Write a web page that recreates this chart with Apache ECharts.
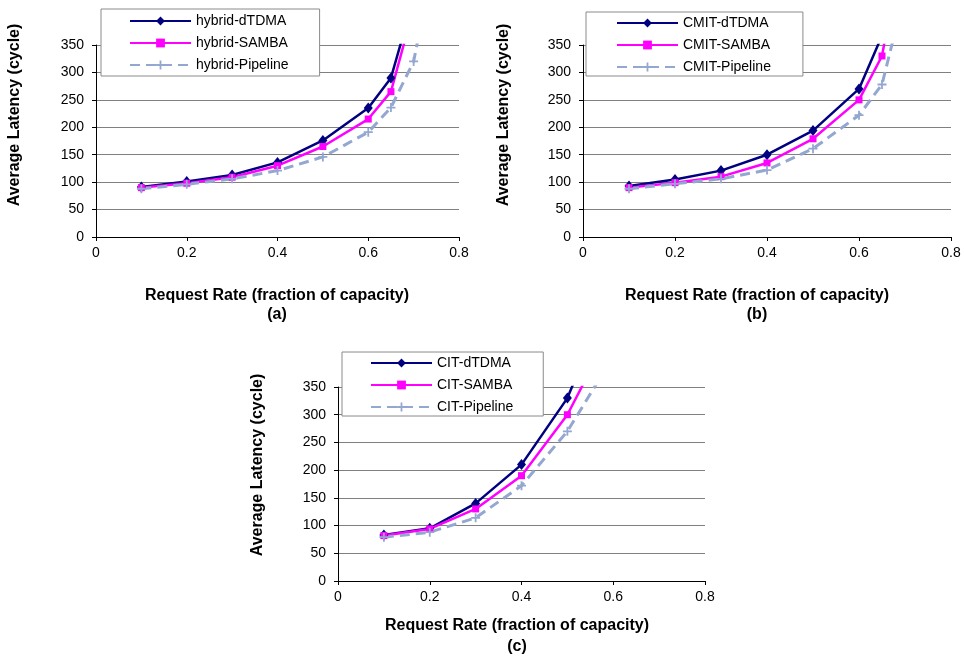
<!DOCTYPE html>
<html>
<head>
<meta charset="utf-8">
<script src="https://cdn.jsdelivr.net/npm/echarts@6/dist/echarts.min.js"></script>
<style>
  html, body { margin: 0; padding: 0; background: #ffffff; }
  #chart { width: 964px; height: 657px; }
</style>
</head>
<body>
<div id="chart"></div>
<script>
// ---- Data: average latency (cycles) vs. request rate (fraction of capacity) ----
const hybridRate         = [0.1, 0.2, 0.3, 0.4, 0.5, 0.6, 0.65, 0.7];
const hybridPipelineRate = [0.1, 0.2, 0.3, 0.4, 0.5, 0.6, 0.65, 0.7, 0.75];
const hybridDTDMA        = [91, 101, 113, 136, 176, 235, 290, 435];
const hybridSAMBA        = [90, 98, 109, 130, 165, 215, 265, 417];
const hybridPipeline     = [88, 96, 106, 121, 146, 191, 236, 320, 530];

const cmitDTDMARate      = [0.1, 0.2, 0.3, 0.4, 0.5, 0.6, 0.65];
const cmitRate           = [0.1, 0.2, 0.3, 0.4, 0.5, 0.6, 0.65, 0.7];
const cmitDTDMA          = [93, 105, 121, 150, 194, 270, 367];
const cmitSAMBA          = [90, 99, 110, 135, 179, 250, 330, 560];
const cmitPipeline       = [88, 97, 106, 122, 161, 222, 278, 447];

const citRate            = [0.1, 0.2, 0.3, 0.4, 0.5, 0.55];
const citPipelineRate    = [0.1, 0.2, 0.3, 0.4, 0.5, 0.6];
const citDTDMA           = [83, 95, 140, 210, 330, 430];
const citSAMBA           = [82, 94, 130, 190, 300, 380];
const citPipeline        = [79, 88, 114, 172, 270, 405];

// Axis ranges and ticks
const xMin = 0, xMax = 0.8, xStep = 0.2;
const yMin = 0, yMax = 350, yStep = 50;

const xTitle = 'Request Rate (fraction of capacity)';
const yTitle = 'Average Latency (cycle)';
const panelLabels = ['(a)', '(b)', '(c)'];

// ---- Styling ----
const FONT = '"Liberation Sans", Arial, Helvetica, sans-serif';
const NAVY = '#000080', MAGENTA = '#ff00ff', STEEL = '#93a7d0';
const PLUS = 'path://M4,0H6V4H10V6H6V10H4V6H0V4H4Z';

function pairs(xs, ys) { return xs.map((x, i) => [x, ys[i]]); }

const styles = {
  dTDMA:    { color: NAVY,    symbol: 'diamond', symbolSize: [9, 11], lineStyle: { width: 2.5, color: NAVY } },
  SAMBA:    { color: MAGENTA, symbol: 'rect',    symbolSize: 7,       lineStyle: { width: 2.5, color: MAGENTA } },
  Pipeline: { color: STEEL,   symbol: PLUS,      symbolSize: 9,       lineStyle: { width: 3, color: STEEL, type: [10, 6] } }
};

function lineSeries(name, kind, idx, xs, ys) {
  const s = styles[kind];
  return {
    name, type: 'line', xAxisIndex: idx, yAxisIndex: idx,
    data: pairs(xs, ys),
    symbol: s.symbol, symbolSize: s.symbolSize, showSymbol: true, showAllSymbol: true,
    itemStyle: { color: s.color },
    lineStyle: s.lineStyle,
    clip: true, z: 3
  };
}

const grids = [
  { left: 96,  top: 45,  width: 363, height: 192 },
  { left: 583, top: 45,  width: 368, height: 192 },
  { left: 338, top: 387, width: 367, height: 194 }
];

const xAxes = grids.map((g, i) => ({
  type: 'value', gridIndex: i, min: xMin, max: xMax, interval: xStep,
  axisLine: { show: true, onZero: false, lineStyle: { color: '#000', width: 1 } },
  axisTick: { show: true, length: 4, lineStyle: { color: '#000' } },
  axisLabel: { color: '#000', fontSize: 14, fontFamily: FONT, margin: 9 },
  splitLine: { show: false }
}));

const yAxes = grids.map((g, i) => ({
  type: 'value', gridIndex: i, min: yMin, max: yMax, interval: yStep,
  axisLine: { show: true, lineStyle: { color: '#000', width: 1 } },
  axisTick: { show: true, length: 4, lineStyle: { color: '#000' } },
  axisLabel: { color: '#000', fontSize: 14, fontFamily: FONT, margin: 12 },
  splitLine: { show: true, lineStyle: { color: '#808080', width: 1 } }
}));

const series = [
  lineSeries('hybrid-dTDMA',    'dTDMA',    0, hybridRate, hybridDTDMA),
  lineSeries('hybrid-SAMBA',    'SAMBA',    0, hybridRate, hybridSAMBA),
  lineSeries('hybrid-Pipeline', 'Pipeline', 0, hybridPipelineRate, hybridPipeline),
  lineSeries('CMIT-dTDMA',      'dTDMA',    1, cmitDTDMARate, cmitDTDMA),
  lineSeries('CMIT-SAMBA',      'SAMBA',    1, cmitRate, cmitSAMBA),
  lineSeries('CMIT-Pipeline',   'Pipeline', 1, cmitRate, cmitPipeline),
  lineSeries('CIT-dTDMA',       'dTDMA',    2, citRate, citDTDMA),
  lineSeries('CIT-SAMBA',       'SAMBA',    2, citRate, citSAMBA),
  lineSeries('CIT-Pipeline',    'Pipeline', 2, citPipelineRate, citPipeline)
];

function legendBox(names, left, top, padding) {
  return {
    data: names, orient: 'vertical', left, top, padding,
    itemWidth: 61, itemHeight: 11, itemGap: 8,
    backgroundColor: '#ffffff', borderColor: '#8a8a8a', borderWidth: 1,
    textStyle: { color: '#000', fontSize: 14, fontFamily: FONT },
    selectedMode: false, z: 10
  };
}

const legends = [
  legendBox(['hybrid-dTDMA', 'hybrid-SAMBA', 'hybrid-Pipeline'], 101, 9,   [5, 31, 4, 28]),
  legendBox(['CMIT-dTDMA', 'CMIT-SAMBA', 'CMIT-Pipeline'],       586, 12,  [4, 32, 2, 30]),
  legendBox(['CIT-dTDMA', 'CIT-SAMBA', 'CIT-Pipeline'],          342, 352, [4, 30, 2, 28])
];

function text(str, x, y, opts) {
  return Object.assign({
    type: 'text', x, y, silent: true,
    style: { text: str, fill: '#000', font: 'bold 16px ' + FONT, align: 'center', verticalAlign: 'middle' }
  }, opts || {});
}

// Axis titles and panel labels
const titlePos = [
  { xt: [277, 296], lab: [277, 315], yt: [15, 115] },
  { xt: [757, 296], lab: [757, 315], yt: [504, 115] },
  { xt: [517, 626], lab: [517, 647], yt: [258, 465] }
];
const graphics = [];
titlePos.forEach((p, i) => {
  graphics.push(text(xTitle, p.xt[0], p.xt[1]));
  graphics.push(text(panelLabels[i], p.lab[0], p.lab[1]));
  graphics.push(text(yTitle, p.yt[0], p.yt[1], { rotation: Math.PI / 2 }));
});

const chart = echarts.init(document.getElementById('chart'), null, { renderer: 'canvas' });
chart.setOption({
  backgroundColor: '#ffffff',
  animation: false,
  textStyle: { fontFamily: FONT },
  grid: grids,
  xAxis: xAxes,
  yAxis: yAxes,
  legend: legends,
  series,
  graphic: graphics
});
</script>
</body>
</html>
